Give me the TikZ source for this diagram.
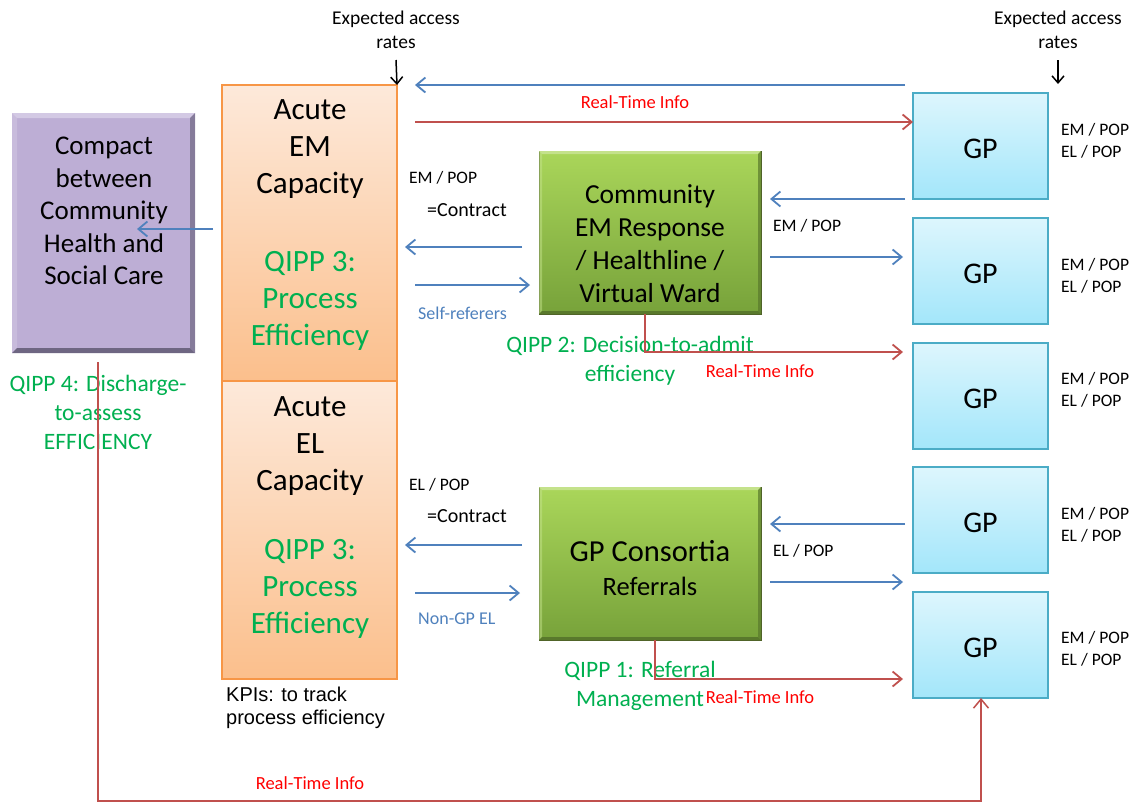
\documentclass[tikz,border=0pt]{standalone}
\usepackage{fontspec}
\setmainfont{Carlito}
\newfontfamily\arialf{Liberation Sans}
\usetikzlibrary{arrows.meta,calc}
\definecolor{blueA}{HTML}{4F81BD}
\definecolor{redA}{HTML}{C0504D}
\definecolor{txtred}{HTML}{FF0000}
\definecolor{txtgreen}{HTML}{00B050}
\definecolor{orBorder}{HTML}{F79646}
\definecolor{orTop}{HTML}{FDE9DA}
\definecolor{orBot}{HTML}{FBBF8C}
\definecolor{gTop}{HTML}{AAD65A}
\definecolor{gBot}{HTML}{77A23A}
\definecolor{gBorder}{HTML}{4F6228}
\definecolor{puFill}{HTML}{BDAED5}
\definecolor{puDark}{HTML}{6E6682}
\definecolor{puLight}{HTML}{D3C9E4}
\definecolor{gpTop}{HTML}{DDF6FD}
\definecolor{gpBot}{HTML}{A3E6FA}
\definecolor{gpBorder}{HTML}{4BACC6}
\newcommand\bevelbox[4]{% name, light, dark, depth
  \fill[#2] (#1.north west) -- (#1.north east) -- ([shift={(-#4,#4)}]#1.north east) -- ([shift={(#4,#4)}]#1.north west) -- cycle;
  \fill[#2, opacity=0.5] (#1.north west) -- ([shift={(#4,#4)}]#1.north west) -- ([shift={(#4,-#4)}]#1.south west) -- (#1.south west) -- cycle;
  \fill[#3] (#1.south west) -- (#1.south east) -- ([shift={(-#4,-#4)}]#1.south east) -- ([shift={(#4,-#4)}]#1.south west) -- cycle;
  \fill[#3, opacity=0.7] (#1.north east) -- ([shift={(-#4,#4)}]#1.north east) -- ([shift={(-#4,-#4)}]#1.south east) -- (#1.south east) -- cycle;
}
\tikzset{
  box/.style={anchor=north west, inner sep=0pt, outer sep=0pt},
  orbox/.style={box, draw=orBorder, line width=1.5pt, top color=orTop, bottom color=orBot, minimum width=175pt},
  grbox/.style={box, draw=gBorder, line width=1pt, top color=gTop, bottom color=gBot, minimum width=222pt},
  gpbox/.style={box, draw=gpBorder, line width=1.5pt, top color=gpTop, bottom color=gpBot, minimum width=135pt, minimum height=106pt},
  pubox/.style={box, fill=puFill, minimum width=183pt, minimum height=240pt},
  arr/.style={line width=1.8pt, -{Straight Barb[length=9pt,width=15pt]}},
  barr/.style={arr, draw=blueA},
  rarr/.style={arr, draw=redA},
  karr/.style={line width=1.5pt, -{Straight Barb[length=7pt,width=12pt]}},
  big/.style={align=center, font=\fontsize{31}{37}\selectfont},
  mid/.style={align=center, font=\fontsize{27.5}{33}\selectfont},
  qipp/.style={align=center, text=txtgreen, font=\fontsize{23.5}{29}\selectfont},
  small/.style={anchor=west, font=\fontsize{17.5}{22}\selectfont, inner sep=0pt},
  contr/.style={small, font=\fontsize{20}{24}\selectfont},
  rti/.style={text=txtred, font=\fontsize{18.5}{22}\selectfont},
  bluelbl/.style={small, text=blueA, font=\fontsize{18}{22}\selectfont},
  exp/.style={align=center, font=\fontsize{19.5}{24}\selectfont},
}
\begin{document}
\begin{tikzpicture}[x=1pt,y=-1pt]
\useasboundingbox[fill=white] (0,0) rectangle (1136,804);

% purple box
\node[pubox] (compact) at (12,113) {};
\bevelbox{compact}{puLight}{puDark}{5}
\node[mid, font=\fontsize{27}{32.5}\selectfont] (compactT) at (104,211) {Compact\\between\\Community\\Health and\\Social Care};

% orange boxes
\node[orbox, minimum height=296pt] (acuteEM) at (222,85) {};
\node[orbox, minimum height=298pt] (acuteEL) at (222,381) {};
\node[big] (emT) at (310,149) {Acute\\EM\\Capacity};
\node[big, text=txtgreen] (q3a) at (310,301) {QIPP 3:\\Process\\Efficiency};
\node[big] (elT) at (310,446) {Acute\\EL\\Capacity};
\node[big, text=txtgreen] (q3b) at (310,589) {QIPP 3:\\Process\\Efficiency};

% green boxes
\node[grbox, minimum height=163pt] (comm) at (539,151) {};
\bevelbox{comm}{white!30!gTop}{gBot!75!black}{3}
\node[mid] (commT) at (650,244) {Community\\EM Response\\/ Healthline /\\Virtual Ward};
\node[grbox, minimum height=153pt] (cons) at (539,487) {};
\bevelbox{cons}{white!30!gTop}{gBot!75!black}{3}
\node[align=center, font=\fontsize{30.5}{34}\selectfont] (consT) at (650,568) {GP Consortia\\{\fontsize{26.5}{34}\selectfont Referrals}};

% GP boxes
\node[gpbox] (gp1) at (913,93) {};
\node[gpbox] (gp2) at (913,218) {};
\node[gpbox] (gp3) at (913,343) {};
\node[gpbox] (gp4) at (913,467) {};
\node[gpbox] (gp5) at (913,592) {};
\foreach \g in {gp1,gp2,gp3,gp4,gp5}{
  \node[font=\fontsize{30}{34}\selectfont] (\g t) at ([yshift=-3pt]\g.center) {GP};
}
\node[small, align=left] (gp1l) at (1061,141) {EM / POP\\EL / POP};
\node[small, align=left] (gp2l) at (1061,275.5) {EM / POP\\EL / POP};
\node[small, align=left] (gp3l) at (1061,390) {EM / POP\\EL / POP};
\node[small, align=left] (gp4l) at (1061,524.5) {EM / POP\\EL / POP};
\node[small, align=left] (gp5l) at (1061,649) {EM / POP\\EL / POP};

% expected access rates
\node[exp] (exp1) at (396,30) {Expected access\\rates};
\node[exp] (exp2) at (1058,30) {Expected access\\rates};
\coordinate (e1) at (396,60);
\coordinate (e2) at (1058,60);
\coordinate (e2b) at (1058,84);
\draw[karr] (e1) -- (acuteEM.north east);
\draw[karr] (e2) -- (e2b);

% top arrows
\coordinate (t1s) at (905,85);
\coordinate (t1e) at (415,85);
\draw[barr] (t1s) -- (t1e);
\coordinate (t2s) at (415,122);
\draw[rarr] (t2s) -- (t2s -| gp1.west);
\node[rti] (rti1) at (635,102) {Real-Time Info};

% community arrows
\coordinate (c1s) at (905,199);
\coordinate (c1e) at (770,199);
\draw[barr] (c1s) -- (c1e);
\coordinate (c2s) at (770,257);
\coordinate (c2e) at (903,257);
\draw[barr] (c2s) -- (c2e);
\node[small] (emr) at (773,226) {EM / POP};
\coordinate (c3s) at (522,247);
\coordinate (c3e) at (405,247);
\draw[barr] (c3s) -- (c3e);
\coordinate (c4s) at (415,285);
\coordinate (c4e) at (530,285);
\draw[barr] (c4s) -- (c4e);
\node[small] (eml) at (409,178) {EM / POP};
\node[contr] (con1) at (427,210) {=Contract};
\node[bluelbl] (selfr) at (418,313) {Self-referers};

% to compact
\coordinate (p1s) at (213,229);
\coordinate (p1e) at (137,229);
\draw[barr] (p1s) -- (p1e);

% consortia arrows
\coordinate (d1s) at (905,524);
\coordinate (d1e) at (770,524);
\draw[barr] (d1s) -- (d1e);
\coordinate (d2s) at (770,582);
\coordinate (d2e) at (903,582);
\draw[barr] (d2s) -- (d2e);
\node[small] (elr) at (773,551) {EL / POP};
\coordinate (d3s) at (522,545);
\coordinate (d3e) at (405,545);
\draw[barr] (d3s) -- (d3e);
\coordinate (d4s) at (415,593);
\coordinate (d4e) at (520,593);
\draw[barr] (d4s) -- (d4e);
\node[small] (ell) at (409,485) {EL / POP};
\node[contr] (con2) at (427,516) {=Contract};
\node[bluelbl] (nongp) at (418,619) {Non-GP EL};

% QIPP labels
\node[qipp] (q2) at (630,360.5) {QIPP 2: Decision-to-admit\\efficiency};
\node[qipp] (q1) at (640,686) {QIPP 1: Referral\\Management};
\node[qipp] (q4) at (98,412) {QIPP 4: Discharge-\\to-assess\\EFFICIENCY};

% red real-time lines
\coordinate (r1s) at (645,314);
\coordinate (r1e) at (903,352);
\draw[rarr] (r1s) |- (r1e);
\node[rti] (rti2) at (760,371) {Real-Time Info};
\coordinate (r2s) at (655,640);
\coordinate (r2e) at (903,679);
\draw[rarr] (r2s) |- (r2e);
\node[rti] (rti3) at (760,697) {Real-Time Info};
\coordinate (r3s) at (98,362);
\coordinate (r3a) at (98,801);
\coordinate (r3b) at (981,801);
\draw[rarr, line width=1.5pt] (r3s) -- (r3a) -- (r3b) -- (r3b |- gp5.south);
\node[rti] (rti4) at (310,783) {Real-Time Info};

% KPIs
\node[anchor=north west, align=left, inner sep=0pt, font=\arialf\fontsize{20}{23}\selectfont] (kpi) at (226,687) {KPIs: to track\\process efficiency};
\end{tikzpicture}
\end{document}
